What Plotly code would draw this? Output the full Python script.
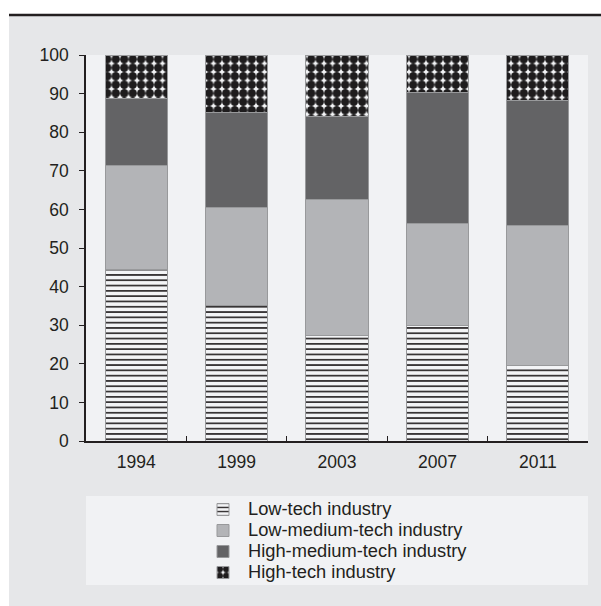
import plotly.graph_objects as go

years = ["1994", "1999", "2003", "2007", "2011"]
low_tech = [44.5, 35.2, 27.3, 29.9, 19.6]
low_medium_tech = [26.9, 25.3, 35.2, 26.4, 36.3]
high_medium_tech = [17.4, 24.6, 21.5, 33.9, 32.4]
high_tech = [11.2, 14.9, 16.0, 9.8, 11.7]
series_names = ["Low-tech industry", "Low-medium-tech industry",
                "High-medium-tech industry", "High-tech industry"]

txt = "#231f20"
outline = "#98999b"
font_family = "Liberation Sans, Arial, sans-serif"

def legend_label(s):
    return '<span style="font-size:18.3px">' + s + '</span>'

fig = go.Figure()
fig.add_trace(go.Bar(
    x=years, y=low_tech, name=legend_label(series_names[0]),
    marker=dict(color="#f3f4f6", line=dict(color=outline, width=1),
                pattern=dict(shape="-", size=5.3, solidity=0.3,
                             fgcolor=txt, bgcolor="#f3f4f6", fillmode="replace")),
))
fig.add_trace(go.Bar(
    x=years, y=low_medium_tech, name=legend_label(series_names[1]),
    marker=dict(color="#b3b4b7", line=dict(color=outline, width=1)),
))
fig.add_trace(go.Bar(
    x=years, y=high_medium_tech, name=legend_label(series_names[2]),
    marker=dict(color="#636365", line=dict(color=outline, width=1)),
))
fig.add_trace(go.Bar(
    x=years, y=high_tech, name=legend_label(series_names[3]),
    marker=dict(color="#f3f4f6", line=dict(color=outline, width=1),
                pattern=dict(shape=".", size=8.5, solidity=0.76,
                             fgcolor="#1e1c1d", bgcolor="#f3f4f6", fillmode="replace")),
))

L, R, T, B = 86, 13, 55, 165
W, H = 601, 606
pw, ph = W - L - R, H - T - B

def px_x(p):
    return (p - L) / pw

def px_y(p):
    return (H - B - p) / ph

shapes = [
    dict(type="rect", xref="paper", yref="paper", x0=px_x(0), x1=px_x(W),
         y0=px_y(15), y1=px_y(0), fillcolor="white", line=dict(width=0), layer="below"),
    dict(type="rect", xref="paper", yref="paper", x0=px_x(0), x1=px_x(9),
         y0=px_y(H), y1=px_y(0), fillcolor="white", line=dict(width=0), layer="below"),
    dict(type="line", xref="paper", yref="paper", x0=px_x(9), x1=px_x(W),
         y0=px_y(15), y1=px_y(15), line=dict(color="#231f20", width=2.5)),
    dict(type="rect", xref="paper", yref="paper", x0=0, x1=1,
         y0=px_y(585), y1=px_y(496), fillcolor="#f1f2f4", line=dict(width=0), layer="below"),
]

fig.update_layout(
    width=W, height=H,
    margin=dict(l=L, r=R, t=T, b=B, autoexpand=False),
    barmode="stack",
    bargap=0.38,
    paper_bgcolor="#e6e7e9",
    plot_bgcolor="#f1f2f4",
    font=dict(family=font_family, size=17.5, color=txt),
    showlegend=True,
    legend=dict(
        orientation="v", traceorder="normal",
        x=px_x(198), xanchor="left", y=px_y(494), yanchor="top",
        bgcolor="rgba(0,0,0,0)", font=dict(size=13.85, color=txt),
        itemwidth=40, tracegroupgap=0,
    ),
    shapes=shapes,
    xaxis=dict(
        showline=True, linecolor=txt, linewidth=1.5,
        ticks="inside", tickson="boundaries", ticklen=5, tickcolor=txt,
        showgrid=False, tickfont=dict(size=17.5, color=txt),
        ticklabelstandoff=4,
    ),
    yaxis=dict(
        range=[0, 100], dtick=10, showline=True, linecolor=txt, linewidth=1.5,
        ticks="outside", ticklen=5, tickcolor=txt, showgrid=False, zeroline=False,
        tickfont=dict(size=17.5, color=txt), ticklabelstandoff=7,
    ),
)

fig.write_html("out.html")
